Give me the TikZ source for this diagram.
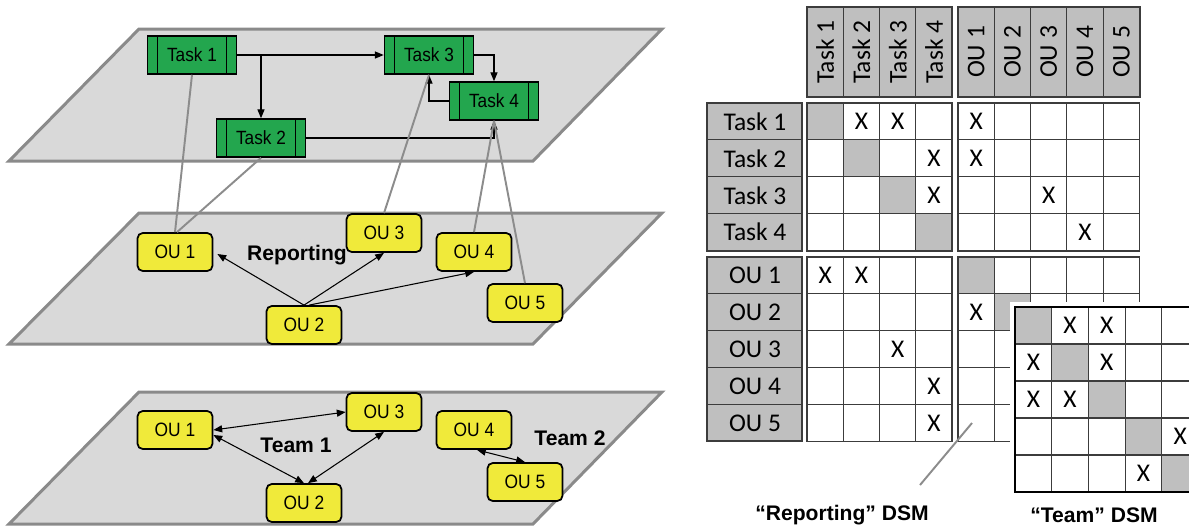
\documentclass[tikz,border=0pt]{standalone}
\usepackage{fontspec}
\setmainfont{Liberation Sans}
\newfontfamily\narrowsf[FakeStretch=0.9]{Liberation Sans}
\newfontfamily\calibrisf{Carlito}
\usetikzlibrary{arrows.meta,positioning,calc}

\definecolor{planegray}{RGB}{217,217,217}
\definecolor{planeedge}{RGB}{138,138,138}
\definecolor{taskgreen}{RGB}{35,166,78}
\definecolor{ouyellow}{RGB}{240,234,58}
\definecolor{cellgray}{RGB}{191,191,191}
\definecolor{linkgray}{RGB}{140,140,140}
\definecolor{gridline}{RGB}{60,60,60}

\begin{document}
\begin{tikzpicture}[
    x=0.02cm,y=-0.02cm,
    plane/.style={draw=planeedge,fill=planegray,line width=1.7pt},
    task/.style={rectangle,draw,fill=taskgreen,line width=0.9pt,minimum width=1.78cm,minimum height=0.76cm,inner sep=0pt,
        font=\narrowsf\fontsize{10.9}{12}\selectfont,
        path picture={\draw[line width=0.7pt]
            ([xshift=0.2cm]path picture bounding box.north west) -- ([xshift=0.2cm]path picture bounding box.south west)
            ([xshift=-0.2cm]path picture bounding box.north east) -- ([xshift=-0.2cm]path picture bounding box.south east);}},
    ou/.style={rectangle,draw,fill=ouyellow,line width=1pt,rounded corners=3pt,minimum width=1.5cm,minimum height=0.76cm,inner sep=0pt,
        font=\narrowsf\fontsize{11}{12}\selectfont},
    arrow/.style={-{Triangle[length=5pt,width=4pt]},line width=0.6pt},
    dblarrow/.style={{Triangle[length=5pt,width=4pt]}-{Triangle[length=5pt,width=4pt]},line width=0.6pt},
    link/.style={draw=linkgray,line width=1.1pt},
    tag/.style={font=\bfseries\fontsize{12}{14}\selectfont,inner sep=0pt},
    cell/.style={font=\calibrisf\fontsize{14.5}{17}\selectfont,inner sep=0pt},
    hdr/.style={fill=cellgray,draw=gridline,line width=1.1pt},
    body/.style={fill=white,draw=gridline,line width=1.1pt},
    grid/.style={draw=gridline,line width=0.6pt}
]
\useasboundingbox (0,0) rectangle (1189,529);

% three planes
\draw[plane] (9,161) -- (533,161) -- (662,29) -- (139,29) -- cycle;
\draw[plane] (9,344) -- (533,344) -- (662,213) -- (139,213) -- cycle;
\draw[plane] (9,524) -- (533,524) -- (662,392) -- (139,392) -- cycle;

% tasks
\node[task] (t1) at (192,55) {Task 1};
\node[task] (t3) at (429,55) {Task 3};
\node[task] (t4) at (494,101) {Task 4};
\node[task] (t2) at (261,138) {Task 2};

\draw[arrow] (t1) -- (t3);
\draw[arrow] (t1.east -| t2.north) -- (t2.north);
\draw[arrow] (t3.east) -| (t4.north);
\draw[arrow] (t4.west) -| (t3.south);
\draw[arrow] (t2.east) -| (t4.south);

% reporting plane
\node[tag] (rep) at (297,255) {Reporting};
\node[ou] (r1) at (175,252) {OU 1};
\node[ou] (r3) at (384,233) {OU 3};
\node[ou] (r4) at (474,252) {OU 4};
\node[ou] (r5) at (525,303) {OU 5};
\node[ou] (r2) at (304,325) {OU 2};

\draw[arrow] (r2.north) -- ([xshift=0.08cm,yshift=-0.04cm]r1.east);
\draw[arrow] (r2.north) -- (r3.south);
\draw[arrow] ([xshift=0.1cm]r2.north) -- (r4.south);

% links between the layers
\draw[link] (t1.south) -- (r1.north);
\draw[link] (t2.south) -- ([xshift=0.04cm]r1.north);
\draw[link] (t3.south) -- (r3.north);
\draw[link] (t4.south) -- (r4.north);
\draw[link] (t4.south) -- (r5.north);

% team plane
\node[ou] (b1) at (175,430) {OU 1};
\node[ou] (b3) at (384,412) {OU 3};
\node[ou] (b4) at (474,430) {OU 4};
\node[ou] (b5) at (525,482) {OU 5};
\node[ou] (b2) at (304,503) {OU 2};
\node[tag] (team1) at (296,445) {Team 1};
\node[tag] (team2) at (570,438) {Team 2};

\draw[dblarrow] (b1.east) -- (b3.west);
\draw[dblarrow] ([yshift=-0.1cm]b1.east) -- (b2.north);
\draw[dblarrow] (b3.south) -- ([xshift=0.08cm]b2.north);
\draw[dblarrow] ([xshift=0.06cm]b4.south) -- (b5.north);

% reporting DSM: headers
\draw[hdr] (807,7) rectangle (952,97);
\foreach \i in {1,2,3} \draw[grid] ({807+\i*36.3},7) -- ++(0,90);
\foreach \i in {1,...,4} \node[cell,rotate=90] (ht\i) at ({807+(\i-0.5)*36.3},52) {Task \i};
\draw[hdr] (958,7) rectangle (1140,97);
\foreach \i in {1,...,4} \draw[grid] ({958+\i*36.3},7) -- ++(0,90);
\foreach \i in {1,...,5} \node[cell,rotate=90] (ho\i) at ({958+(\i-0.5)*36.3},52) {OU \i};

\draw[hdr] (707,103) rectangle (802,251);
\foreach \i in {1,2,3} \draw[grid] (707,{103+\i*36.9}) -- ++(95,0);
\foreach \i in {1,...,4} \node[cell] (rt\i) at (755,{103+(\i-0.5)*36.9}) {Task \i};
\draw[hdr] (707,257) rectangle (802,441);
\foreach \i in {1,...,4} \draw[grid] (707,{257+\i*36.9}) -- ++(95,0);
\foreach \i in {1,...,5} \node[cell] (ro\i) at (755,{257+(\i-0.5)*36.9}) {OU \i};

% reporting DSM: body blocks
\foreach \cx/\cy/\nc/\nr in {807/103/4/4,958/103/5/4,807/257/4/5,958/257/5/5}{
  \draw[body] (\cx,\cy) rectangle ({\cx+\nc*36.3},{\cy+\nr*36.9});
}
\foreach \i in {1,...,4} \fill[cellgray] ({807+(\i-1)*36.3},{103+(\i-1)*36.9}) rectangle ++(36.3,36.9);
\foreach \i in {1,...,5} \fill[cellgray] ({958+(\i-1)*36.3},{257+(\i-1)*36.9}) rectangle ++(36.3,36.9);
\foreach \cx/\cy/\nc/\nr in {807/103/4/4,958/103/5/4,807/257/4/5,958/257/5/5}{
  \foreach \i in {1,...,\nc} \draw[grid] ({\cx+\i*36.3},\cy) -- ++(0,{\nr*36.9});
  \foreach \j in {1,...,\nr} \draw[grid] (\cx,{\cy+\j*36.9}) -- ++({\nc*36.3},0);
  \draw[draw=gridline,line width=1.1pt] (\cx,\cy) rectangle ({\cx+\nc*36.3},{\cy+\nr*36.9});
}
\foreach \c/\r in {2/1,3/1,4/2,4/3} \node[cell] at ({807+(\c-0.5)*36.3},{103+(\r-0.5)*36.9}) {X};
\foreach \c/\r in {1/1,1/2,3/3,4/4} \node[cell] at ({958+(\c-0.5)*36.3},{103+(\r-0.5)*36.9}) {X};
\foreach \c/\r in {1/1,2/1,3/3,4/4,4/5} \node[cell] at ({807+(\c-0.5)*36.3},{257+(\r-0.5)*36.9}) {X};
\foreach \c/\r in {1/2} \node[cell] at ({958+(\c-0.5)*36.3},{257+(\r-0.5)*36.9}) {X};

% team DSM on top
\fill[white] (1010,302) rectangle (1200,497);
\foreach \i in {1,...,5} \fill[cellgray] ({1015+(\i-1)*36.7},{307+(\i-1)*37}) rectangle ++(36.7,37);
\foreach \i in {1,...,4} {
  \draw[grid] ({1015+\i*36.7},307) -- ++(0,185);
  \draw[grid] (1015,{307+\i*37}) -- ++(183.5,0);
}
\draw[draw=black,line width=1.1pt] (1015,307) rectangle (1198.5,492);
\foreach \c/\r in {2/1,3/1,1/2,3/2,1/3,2/3,5/4,4/5} \node[cell] at ({1015+(\c-0.5)*36.7},{307+(\r-0.5)*37}) {X};

% callout and captions
\coordinate (callA) at (972,423);
\coordinate (callB) at (920,485);
\draw[link] (callA) -- (callB);
\node[tag] (capR) at (842,515) {“Reporting” DSM};
\node[tag] (capT) at (1094,515) {“Team” DSM};
\end{tikzpicture}
\end{document}
